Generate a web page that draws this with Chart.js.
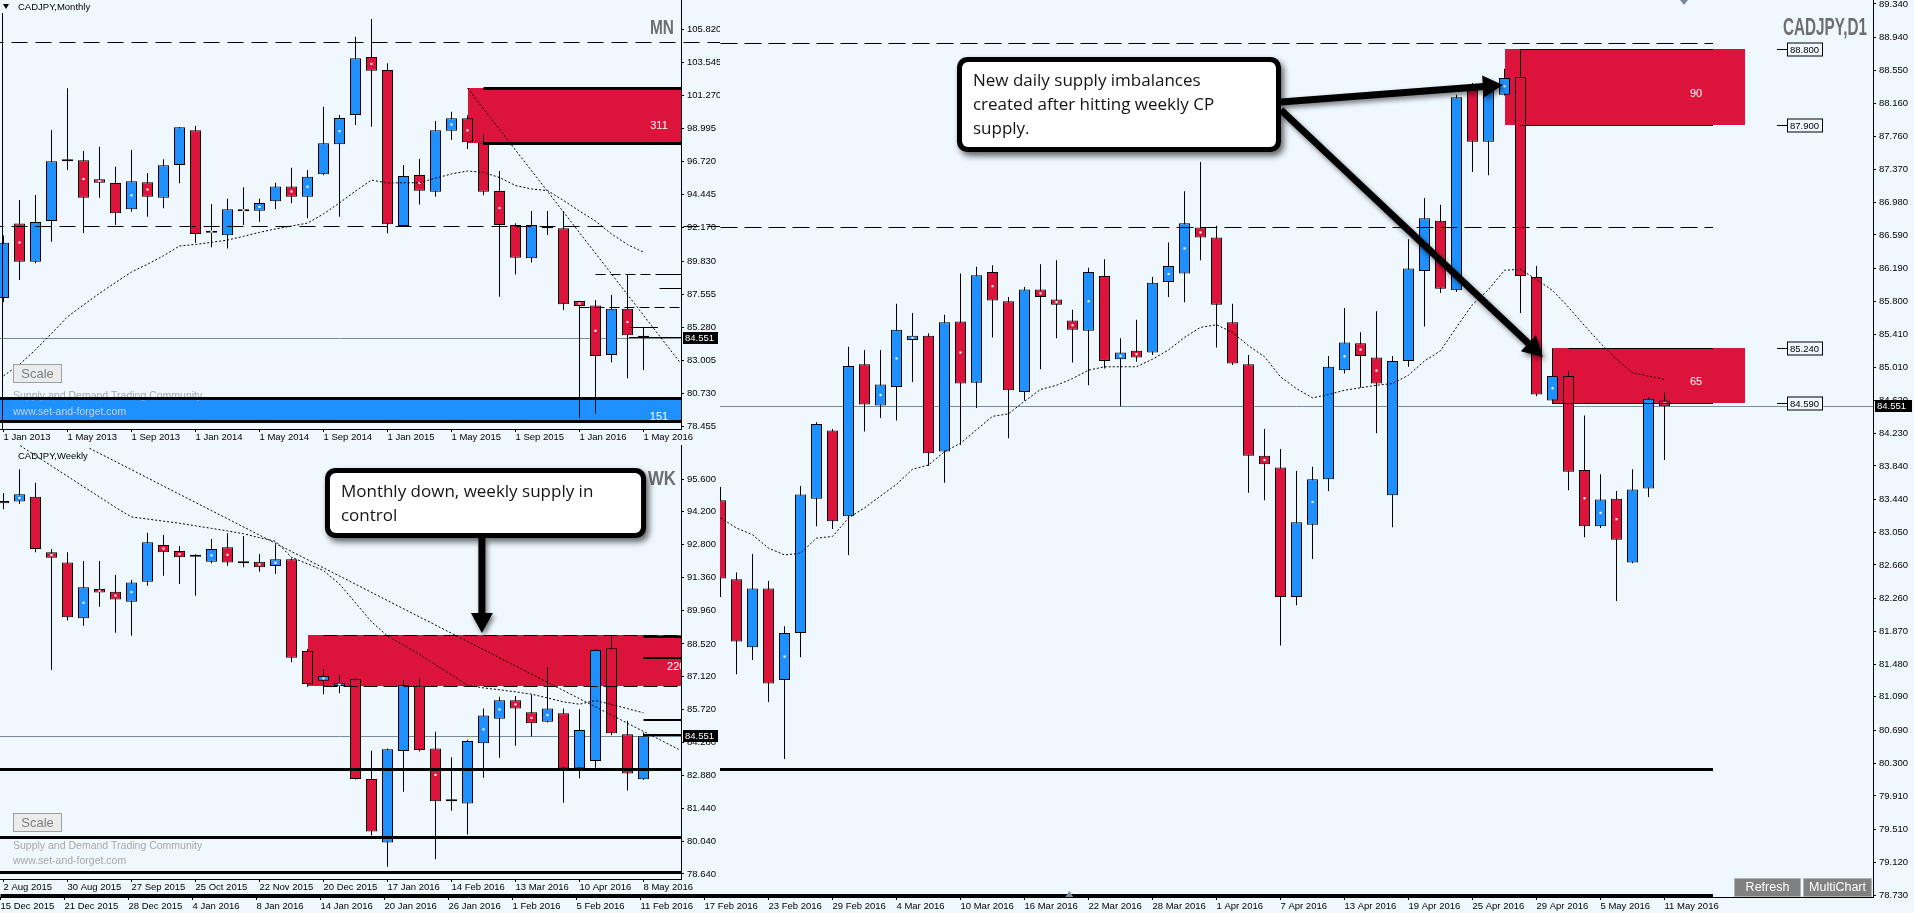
<!DOCTYPE html>
<html>
<head>
<meta charset="utf-8">
<title>CADJPY</title>
<script src="https://cdn.jsdelivr.net/npm/chart.js@4.4.1/dist/chart.umd.min.js"></script>
<style>
  html, body { margin: 0; padding: 0; background: #f0f8ff; overflow: hidden; }
  #screen { position: relative; width: 1914px; height: 913px; }
  canvas { position: absolute; left: 0; display: block; }
  #daily { top: 0; }
  #monthly { top: 0; background: #f0f8ff; }
  #weekly { top: 445px; background: #f0f8ff; }
</style>
</head>
<body>
<div id="screen">
  <canvas id="daily" width="1914" height="913"></canvas>
  <canvas id="monthly" width="720" height="443"></canvas>
  <canvas id="weekly" width="720" height="448"></canvas>
</div>
<script>
// monthly bars, Jan 2013 .. May 2016
var monthlyLabels = ['1 Jan 2013', '1 May 2013', '1 Sep 2013', '1 Jan 2014', '1 May 2014', '1 Sep 2014', '1 Jan 2015', '1 May 2015', '1 Sep 2015', '1 Jan 2016', '1 May 2016'];
var monthlyTicks = [105.820, 103.545, 101.270, 98.995, 96.720, 94.445, 92.170, 89.830, 87.555, 85.280, 83.005, 80.730, 78.455];
var monthlyOpen = [87.3, 92.44, 89.80, 92.6, 96.72, 96.79, 95.48, 95.23, 93.41, 95.27, 94.21, 96.46, 98.86, 91.80, 91.62, 93.41, 93.31, 93.96, 94.99, 94.28, 95.82, 97.89, 99.91, 103.91, 103.01, 92.26, 95.78, 94.62, 98.83, 99.68, 98.0, 94.67, 92.33, 90.03, 92.2, 92.1, 87.08, 86.77, 83.37, 86.56, 84.7];
var monthlyHigh = [91.6, 94.05, 94.4, 98.88, 101.75, 97.43, 97.73, 96.35, 97.5, 95.91, 96.86, 99.06, 99.15, 93.78, 94.14, 94.93, 94.14, 95.24, 96.28, 96.12, 100.48, 99.91, 105.31, 106.53, 103.48, 96.47, 96.88, 99.5, 100.14, 99.9, 98.58, 96.05, 92.45, 93.3, 93.3, 93.3, 87.1, 87.15, 87.5, 88.93, 85.27];
var monthlyLow = [87.0, 88.53, 89.69, 91.18, 96.12, 91.78, 94.21, 92.33, 93.24, 92.9, 93.48, 95.2, 91.11, 90.79, 90.7, 92.33, 92.56, 93.43, 93.82, 92.79, 95.75, 92.9, 99.22, 99.1, 91.76, 92.2, 93.75, 94.28, 98.19, 97.57, 94.38, 87.39, 88.92, 89.75, 91.64, 86.47, 79.0, 79.35, 82.86, 81.76, 82.33];
var monthlyClose = [91.1, 89.80, 92.53, 96.72, 96.86, 94.21, 95.24, 93.13, 95.34, 94.28, 96.44, 99.06, 91.71, 91.94, 93.41, 93.27, 93.84, 94.99, 94.28, 95.66, 97.96, 99.70, 103.82, 102.97, 92.38, 95.71, 94.69, 98.86, 99.68, 98.03, 94.62, 92.33, 90.07, 92.33, 92.1, 86.86, 86.74, 83.3, 86.56, 84.72, 84.551];
var monthlyDots = [1, 5, 6, 8, 9, 13, 15, 16, 18, 19, 21, 23, 26, 28, 29, 31, 36, 37, 39];
var monthlyMA = [81.93, 82.71, 83.73, 84.85, 86.0, 86.82, 87.62, 88.36, 89.09, 89.62, 90.21, 90.88, 90.99, 91.13, 91.29, 91.55, 91.82, 92.06, 92.26, 92.46, 93.09, 93.85, 94.67, 95.43, 95.22, 95.24, 95.24, 95.55, 95.85, 96.05, 95.96, 95.6, 95.05, 94.81, 94.7, 94.02, 93.29, 92.6, 91.71, 90.98, 90.46];
var monthlyTrend = [[29, 101.77], [42.25, 82.90]];

// weekly bars, 2 Aug 2015 .. 8 May 2016
var weeklyLabels = ['2 Aug 2015', '30 Aug 2015', '27 Sep 2015', '25 Oct 2015', '22 Nov 2015', '20 Dec 2015', '17 Jan 2016', '14 Feb 2016', '13 Mar 2016', '10 Apr 2016', '8 May 2016'];
var weeklyTicks = [95.600, 94.200, 92.800, 91.360, 89.960, 88.520, 87.120, 85.720, 84.280, 82.880, 81.440, 80.040, 78.640];
var weeklyOpen = [94.66, 94.63, 94.84, 92.45, 92.02, 89.62, 90.88, 90.76, 90.33, 91.19, 92.77, 92.51, 92.28, 92.05, 92.67, 92.0, 92.05, 91.86, 92.15, 88.21, 86.94, 86.71, 87.0, 82.72, 79.99, 83.92, 86.72, 84.03, 81.76, 81.67, 84.25, 85.31, 86.1, 85.58, 85.18, 85.54, 83.18, 83.49, 88.33, 84.64, 82.71];
var weeklyHigh = [95.0, 96.02, 95.44, 92.59, 92.45, 92.08, 92.08, 91.48, 91.26, 93.29, 93.2, 92.72, 92.37, 93.02, 93.27, 93.15, 92.38, 92.8, 92.2, 88.3, 87.43, 87.18, 87.05, 83.93, 84.03, 86.97, 87.04, 84.75, 83.65, 84.4, 85.75, 86.25, 86.28, 86.35, 87.51, 85.75, 85.71, 88.3, 88.83, 85.22, 84.72];
var weeklyLow = [94.3, 94.53, 92.45, 87.4, 89.52, 89.3, 90.12, 89.0, 88.87, 91.02, 91.45, 91.09, 90.59, 91.98, 91.88, 91.81, 91.62, 91.52, 87.73, 86.68, 86.36, 86.4, 82.7, 80.29, 78.95, 82.17, 83.9, 79.27, 81.36, 80.34, 82.77, 83.63, 84.15, 84.54, 85.14, 81.7, 82.75, 83.2, 84.6, 82.22, 82.68];
var weeklyClose = [94.56, 94.94, 92.59, 92.22, 89.66, 90.95, 90.73, 90.43, 91.16, 92.88, 92.45, 92.24, 92.26, 92.59, 92.02, 91.98, 91.81, 92.15, 87.93, 86.8, 87.14, 86.83, 82.72, 80.46, 84.0, 86.75, 83.96, 81.76, 81.8, 84.35, 85.45, 86.1, 85.75, 85.11, 85.75, 83.18, 84.82, 88.26, 84.68, 82.96, 84.55];
var weeklyDots = [1, 3, 5, 6, 7, 8, 10, 11, 13, 14, 16, 17, 20, 21, 27, 30, 31, 32, 33, 34];
var weeklyMA = [97.50, 97.05, 96.61, 96.16, 95.72, 95.27, 94.83, 94.38, 93.97, 93.88, 93.79, 93.70, 93.59, 93.48, 93.37, 93.25, 93.08, 92.93, 92.24, 91.96, 91.67, 91.09, 90.28, 89.47, 88.86, 88.47, 88.08, 87.62, 87.19, 86.75, 86.63, 86.55, 86.46, 86.36, 86.20, 86.03, 85.93, 86.09, 85.92, 85.74, 85.56];
var weeklyTrend = [[5.375, 96.92], [42.2, 83.99]];

// daily bars, axis starts at 15 Dec 2015, visible bars from index 45 (18 Feb 2016) to 104 (11 May 2016)
var dailyLabels = ['15 Dec 2015', '21 Dec 2015', '28 Dec 2015', '4 Jan 2016', '8 Jan 2016', '14 Jan 2016', '20 Jan 2016', '26 Jan 2016', '1 Feb 2016', '5 Feb 2016', '11 Feb 2016', '17 Feb 2016', '23 Feb 2016', '29 Feb 2016', '4 Mar 2016', '10 Mar 2016', '16 Mar 2016', '22 Mar 2016', '28 Mar 2016', '1 Apr 2016', '7 Apr 2016', '13 Apr 2016', '19 Apr 2016', '25 Apr 2016', '29 Apr 2016', '5 May 2016', '11 May 2016'];
var dailyTicks = [89.340, 88.940, 88.550, 88.160, 87.760, 87.370, 86.980, 86.590, 86.190, 85.800, 85.410, 85.010, 84.620, 84.230, 83.840, 83.440, 83.050, 82.660, 82.260, 81.870, 81.480, 81.090, 80.690, 80.300, 79.910, 79.510, 79.120, 78.730];
var dailyFirst = 45;
var dailyOpen = [83.43, 82.49, 81.68, 82.38, 81.29, 81.85, 83.45, 84.26, 83.24, 85.05, 84.56, 84.78, 85.34, 85.39, 84.01, 85.56, 84.83, 86.15, 85.80, 84.72, 85.94, 85.82, 85.57, 85.45, 86.10, 85.11, 85.21, 85.19, 86.03, 86.13, 86.68, 86.56, 85.55, 85.05, 83.96, 83.82, 82.28, 83.14, 83.68, 84.98, 85.30, 85.13, 83.49, 85.09, 86.16, 86.76, 85.93, 88.32, 87.70, 88.26, 88.47, 86.09, 84.62, 84.91, 83.79, 83.12, 83.45, 82.69, 83.57, 84.62];
var dailyHigh = [83.59, 82.57, 82.79, 82.47, 81.93, 83.60, 84.36, 84.28, 85.26, 85.22, 85.22, 85.77, 85.66, 85.42, 85.64, 86.13, 86.21, 86.23, 85.85, 85.97, 86.24, 86.29, 85.70, 86.20, 86.30, 85.36, 85.58, 86.09, 86.50, 87.11, 87.46, 86.70, 85.77, 85.16, 84.28, 84.04, 83.78, 83.83, 85.15, 85.72, 85.43, 85.68, 85.15, 86.54, 87.03, 86.95, 88.26, 88.40, 88.40, 88.57, 88.80, 86.22, 85.24, 84.97, 84.44, 83.74, 83.54, 83.80, 84.66, 84.71];
var dailyLow = [82.28, 81.36, 81.53, 81.03, 80.35, 81.56, 83.12, 83.09, 82.78, 84.25, 84.41, 84.38, 84.84, 83.84, 83.64, 84.09, 84.53, 85.37, 84.17, 84.62, 84.99, 85.36, 85.07, 84.80, 85.00, 84.55, 85.08, 85.16, 85.85, 85.79, 86.29, 85.25, 85.04, 83.52, 83.43, 81.70, 82.18, 82.73, 83.54, 84.94, 84.77, 84.23, 83.11, 85.02, 85.50, 85.90, 85.91, 87.34, 87.30, 88.25, 85.66, 84.67, 84.58, 83.55, 82.99, 83.10, 82.23, 82.68, 83.47, 83.91];
var dailyClose = [82.50, 81.75, 82.38, 81.25, 81.85, 83.50, 84.34, 83.18, 85.03, 84.57, 84.81, 85.46, 85.39, 83.99, 85.55, 84.82, 86.11, 85.81, 84.74, 85.94, 85.85, 85.76, 85.46, 86.15, 85.09, 85.19, 85.13, 86.02, 86.22, 86.73, 86.56, 85.76, 85.06, 83.96, 83.86, 82.28, 83.17, 83.68, 85.02, 85.31, 85.15, 84.82, 85.09, 86.19, 86.79, 85.95, 88.23, 87.70, 88.32, 88.46, 86.10, 84.69, 84.91, 83.77, 83.12, 83.44, 82.96, 83.56, 84.64, 84.551];
var dailyDots = [49, 55, 56, 57, 60, 62, 65, 66, 67, 68, 70, 71, 73, 74, 75, 79, 82, 84, 85, 86, 94, 97, 99, 100, 101, 104];
var dailyMA = [83.22, 83.10, 83.02, 82.86, 82.78, 82.80, 82.98, 83.00, 83.22, 83.34, 83.48, 83.62, 83.80, 83.85, 84.01, 84.11, 84.27, 84.43, 84.46, 84.61, 84.75, 84.80, 84.88, 84.98, 85.02, 85.02, 85.02, 85.11, 85.22, 85.37, 85.49, 85.52, 85.43, 85.27, 85.14, 84.90, 84.76, 84.65, 84.69, 84.74, 84.77, 84.80, 84.82, 84.92, 85.09, 85.21, 85.49, 85.76, 85.94, 86.17, 86.18, 86.06, 85.93, 85.73, 85.51, 85.30, 85.11, 84.95, 84.91, 84.87];
var lastPrice = 84.551;

var UP = '#1e90ff', DOWN = '#dc143c', BG = '#f0f8ff';
var SANS = '"Liberation Sans", Arial, sans-serif';
var AXIS_FONT = {family: SANS, size: 9.5};

function candleSets(first, open, high, low, close, dots, ma) {
  var wicks = [], bodies = [], colors = [], marks = [], avg = [];
  for (var j = 0; j < open.length; j++) {
    wicks.push({x: first + j, y: [low[j], high[j]]});
    bodies.push({x: first + j, y: [open[j], close[j]]});
    colors.push(close[j] >= open[j] ? UP : DOWN);
    avg.push({x: first + j, y: ma[j]});
  }
  dots.forEach(function (i) {
    var j = i - first;
    marks.push({x: i, y: (open[j] + close[j]) / 2});
  });
  return [
    {type: 'line', data: avg, borderColor: '#000', borderWidth: 1, borderDash: [2, 2], pointRadius: 0, pointHoverRadius: 0, order: 0},
    {type: 'line', data: marks, showLine: false, pointStyle: 'rect', pointRadius: 1.5, pointHoverRadius: 0, pointBackgroundColor: '#fff', pointBorderWidth: 0, order: 1},
    {type: 'bar', data: bodies, backgroundColor: colors, borderColor: '#000', borderWidth: 1, borderSkipped: false,
     grouped: false, barPercentage: 1, categoryPercentage: 1, maxBarThickness: 11, minBarLength: 2, inflateAmount: 0, order: 2},
    {type: 'bar', data: wicks, backgroundColor: '#000', borderWidth: 0,
     grouped: false, barPercentage: 1, categoryPercentage: 1, maxBarThickness: 1, inflateAmount: 0, order: 3}
  ];
}

function trendSet(points) {
  return {type: 'line', data: points.map(function (p) { return {x: p[0], y: p[1]}; }),
          borderColor: '#000', borderWidth: 1, borderDash: [2, 2], pointRadius: 0, pointHoverRadius: 0, order: 0};
}

function chartOptions(xMin, xMax, yMin, yMax, yTicks, xLabels, axisWidth, axisHeight, labelPad) {
  return {
    responsive: false, animation: false, events: [], devicePixelRatio: 1,
    layout: {padding: 0, autoPadding: false},
    plugins: {legend: {display: false}, tooltip: {enabled: false}},
    scales: {
      x: {
        type: 'linear', min: xMin, max: xMax, offset: false,
        grid: {display: true, drawOnChartArea: false, drawTicks: true, tickLength: 3, color: '#000', offset: false},
        border: {display: true, color: '#000'},
        ticks: {autoSkip: false, maxRotation: 0, minRotation: 0, align: 'start', padding: labelPad, color: '#000', font: AXIS_FONT,
                callback: function (v, i) { return xLabels[i]; }},
        afterBuildTicks: function (s) { s.ticks = xLabels.map(function (t, i) { return {value: i * 4}; }); },
        afterFit: function (s) { s.height = axisHeight; s.paddingLeft = 0; s.paddingRight = 0; }
      },
      y: {
        type: 'linear', position: 'right', min: yMin, max: yMax,
        grid: {display: true, drawOnChartArea: false, drawTicks: true, tickLength: 3, color: '#000'},
        border: {display: true, color: '#000'},
        ticks: {autoSkip: false, padding: 3, color: '#000', font: AXIS_FONT, callback: function (v) { return v.toFixed(3); }},
        afterBuildTicks: function (s) { s.ticks = yTicks.map(function (v) { return {value: v}; }); },
        afterFit: function (s) { s.width = axisWidth; s.paddingTop = 0; s.paddingBottom = 0; }
      }
    }
  };
}

// drawing helpers, everything placed through the chart scales
function px(ch, v) { return ch.scales.x.getPixelForValue(v); }
function py(ch, v) { return ch.scales.y.getPixelForValue(v); }

function zone(ch, from, to, top, bottom, color) {
  var ctx = ch.ctx, a = ch.chartArea;
  ctx.save();
  ctx.beginPath(); ctx.rect(a.left, a.top, a.right - a.left, a.bottom - a.top); ctx.clip();
  var x0 = Math.round(px(ch, from)), x1 = Math.round(px(ch, to));
  var y0 = Math.round(py(ch, top)), y1 = Math.round(py(ch, bottom));
  ctx.fillStyle = color;
  ctx.fillRect(x0, y0, x1 - x0, y1 - y0);
  ctx.restore();
}

function hline(ch, from, to, value, width, dash, wide) {
  var ctx = ch.ctx, a = ch.chartArea;
  var y = Math.round(py(ch, value)) + (width % 2 ? 0.5 : 0);
  ctx.save();
  if (!wide) { ctx.beginPath(); ctx.rect(a.left, 0, a.right - a.left, ch.height); ctx.clip(); }
  ctx.strokeStyle = '#000'; ctx.lineWidth = width; ctx.setLineDash(dash || []);
  ctx.beginPath(); ctx.moveTo(px(ch, from), y); ctx.lineTo(px(ch, to), y); ctx.stroke();
  ctx.restore();
}

function priceLine(ch, from, value) {
  var ctx = ch.ctx, a = ch.chartArea, y = Math.round(py(ch, value)) + 0.5;
  ctx.save();
  ctx.strokeStyle = '#7b8a99'; ctx.lineWidth = 1;
  ctx.beginPath(); ctx.moveTo(Math.max(a.left, px(ch, from)), y); ctx.lineTo(a.right, y); ctx.stroke();
  ctx.restore();
}

function priceBox(ch, value) {
  var ctx = ch.ctx, a = ch.chartArea, y = Math.round(py(ch, value));
  ctx.save();
  ctx.fillStyle = '#000'; ctx.fillRect(a.right + 2, y - 6, ch.width - a.right - 4, 12);
  ctx.fillStyle = '#fff'; ctx.font = '9.5px ' + SANS; ctx.textBaseline = 'middle'; ctx.textAlign = 'left';
  ctx.fillText(value.toFixed(3), a.right + 4, y + 0.5);
  ctx.restore();
}

function write(ctx, str, x, y, color, size, align, clipArea) {
  ctx.save();
  if (clipArea) { ctx.beginPath(); ctx.rect(clipArea.left, clipArea.top, clipArea.right - clipArea.left, clipArea.bottom - clipArea.top); ctx.clip(); }
  ctx.fillStyle = color; ctx.font = size + 'px ' + SANS;
  ctx.textAlign = align || 'left'; ctx.textBaseline = 'middle';
  ctx.fillText(str, x, y);
  ctx.restore();
}

function bigTitle(ctx, str, xRight, cy, width, size) {
  ctx.save();
  ctx.font = 'bold ' + size + 'px ' + SANS;
  var m = ctx.measureText(str).width;
  ctx.translate(xRight - width, cy);
  ctx.scale(width / m, 1);
  ctx.fillStyle = '#6e6e6e'; ctx.textBaseline = 'middle'; ctx.textAlign = 'left';
  ctx.fillText(str, 0, 1);
  ctx.restore();
}

function button(ctx, x, y, w, h, str, fill, edge, color, size) {
  ctx.save();
  ctx.fillStyle = fill; ctx.fillRect(x, y, w, h);
  ctx.strokeStyle = edge; ctx.lineWidth = 1; ctx.strokeRect(x + 0.5, y + 0.5, w - 1, h - 1);
  ctx.fillStyle = color; ctx.font = size + 'px ' + SANS; ctx.textAlign = 'center'; ctx.textBaseline = 'middle';
  ctx.fillText(str, x + w / 2, y + h / 2 + 0.5);
  ctx.restore();
}

function roundedPath(ctx, x, y, w, h, r) {
  ctx.beginPath();
  ctx.moveTo(x + r, y);
  ctx.arcTo(x + w, y, x + w, y + h, r);
  ctx.arcTo(x + w, y + h, x, y + h, r);
  ctx.arcTo(x, y + h, x, y, r);
  ctx.arcTo(x, y, x + w, y, r);
  ctx.closePath();
}

function callout(ctx, x0, y0, x1, y1, lines) {
  ctx.save();
  ctx.shadowColor = 'rgba(0,0,0,0.6)'; ctx.shadowBlur = 6; ctx.shadowOffsetX = 3; ctx.shadowOffsetY = 4;
  ctx.fillStyle = '#000';
  roundedPath(ctx, x0, y0, x1 - x0, y1 - y0, 10); ctx.fill();
  ctx.shadowColor = 'rgba(0,0,0,0)';
  ctx.fillStyle = '#fff';
  roundedPath(ctx, x0 + 5, y0 + 5, x1 - x0 - 10, y1 - y0 - 10, 6); ctx.fill();
  ctx.fillStyle = '#141414'; ctx.font = '17px "Open Sans", ' + SANS;
  ctx.textAlign = 'left'; ctx.textBaseline = 'middle';
  lines.forEach(function (t, i) { ctx.fillText(t, x0 + 16, y0 + 24 + i * 24); });
  ctx.restore();
}

function arrow(ctx, x0, y0, x1, y1) {
  var ang = Math.atan2(y1 - y0, x1 - x0), c = Math.cos(ang), s = Math.sin(ang);
  var bx = x1 - c * 20, by = y1 - s * 20;
  ctx.save();
  ctx.shadowColor = 'rgba(0,0,0,0.5)'; ctx.shadowBlur = 5; ctx.shadowOffsetX = 2; ctx.shadowOffsetY = 3;
  ctx.strokeStyle = '#000'; ctx.fillStyle = '#000'; ctx.lineWidth = 7;
  ctx.beginPath(); ctx.moveTo(x0, y0); ctx.lineTo(bx + c * 4, by + s * 4); ctx.stroke();
  ctx.beginPath(); ctx.moveTo(x1, y1); ctx.lineTo(bx - s * 11, by + c * 11); ctx.lineTo(bx + s * 11, by - c * 11); ctx.closePath(); ctx.fill();
  ctx.restore();
}

function triangle(ctx, x, yTip, yBase, half, color) {
  ctx.save(); ctx.fillStyle = color;
  ctx.beginPath(); ctx.moveTo(x, yTip); ctx.lineTo(x - half, yBase); ctx.lineTo(x + half, yBase); ctx.closePath(); ctx.fill();
  ctx.restore();
}

function levelTag(ch, value) {
  var ctx = ch.ctx, y = Math.round(py(ch, value)) + 0.5;
  var x0 = Math.round(px(ch, 111.03)), bx = Math.round(px(ch, 111.66)) + 0.5;
  ctx.save();
  ctx.strokeStyle = '#000'; ctx.lineWidth = 1;
  ctx.beginPath(); ctx.moveTo(x0, y); ctx.lineTo(bx, y); ctx.stroke();
  ctx.fillStyle = BG; ctx.fillRect(bx, y - 6.5, 35, 13); ctx.strokeRect(bx, y - 6.5, 35, 13);
  ctx.fillStyle = '#000'; ctx.font = '9.5px ' + SANS; ctx.textBaseline = 'middle'; ctx.textAlign = 'left';
  ctx.fillText(value.toFixed(3), bx + 2.5, y + 0.5);
  ctx.restore();
}

// ---------- daily chart (whole window, behind the two small ones) ----------
var dailyChart = new Chart(document.getElementById('daily').getContext('2d'), {
  type: 'bar',
  data: {datasets: candleSets(dailyFirst, dailyOpen, dailyHigh, dailyLow, dailyClose, dailyDots, dailyMA)},
  options: chartOptions(-0.03125, 117.03125, 78.7066, 89.3876, dailyTicks, dailyLabels, 41, 16, 1),
  plugins: [{
    id: 'dailyMarks',
    beforeDatasetsDraw: function (ch) {
      zone(ch, 94, 109, 88.80, 87.90, DOWN);
      zone(ch, 97, 109, 85.24, 84.59, DOWN);
      priceLine(ch, 44.97, lastPrice);
    },
    afterDatasetsDraw: function (ch) {
      var ctx = ch.ctx;
      hline(ch, 43.5, 107.03, 88.876, 1, [17, 7]);
      hline(ch, 43.5, 107.03, 86.685, 1, [17, 7]);
      hline(ch, 0, 107.03, 80.23, 3);
      hline(ch, 0, 107.03, 78.73, 3);
      hline(ch, 95, 107.03, 88.80, 1);
      hline(ch, 95, 107.03, 87.90, 1);
      hline(ch, 98, 107.03, 85.24, 1);
      hline(ch, 97, 107.03, 84.59, 1);
      write(ctx, '90', px(ch, 105.97), py(ch, 88.268), '#fff', 11, 'center');
      write(ctx, '65', px(ch, 105.97), py(ch, 84.839), '#fff', 11, 'center');
      [88.80, 87.90, 85.24, 84.59].forEach(function (v) { levelTag(ch, v); });
      bigTitle(ctx, 'CADJPY,D1', 1867, 28, 84, 23);
    },
    afterDraw: function (ch) {
      var ctx = ch.ctx, a = ch.chartArea;
      arrow(ctx, px(ch, 80.03), py(ch, 88.173), px(ch, 93.9), py(ch, 88.375));
      arrow(ctx, px(ch, 80.03), py(ch, 88.078), px(ch, 96.4), py(ch, 85.137));
      callout(ctx, px(ch, 59.78), py(ch, 88.709), px(ch, 80.03), py(ch, 87.578),
              ['New daily supply imbalances', 'created after hitting weekly CP', 'supply.']);
      priceBox(ch, lastPrice);
      triangle(ctx, px(ch, 105.22), 5, 0, 4, '#7b8a99');
      triangle(ctx, px(ch, 66.8), a.bottom - 6, a.bottom, 4, '#7b8a99');
      button(ctx, 1734, 878, 67, 19, 'Refresh', '#808080', '#b4b4b4', '#fff', 12.5);
      button(ctx, 1803, 878, 69, 19, 'MultiChart', '#808080', '#b4b4b4', '#fff', 12.5);
    }
  }]
});

// ---------- monthly chart ----------
var monthlyChart = new Chart(document.getElementById('monthly').getContext('2d'), {
  type: 'bar',
  data: {datasets: candleSets(0, monthlyOpen, monthlyHigh, monthlyLow, monthlyClose, monthlyDots, monthlyMA).concat([trendSet(monthlyTrend)])},
  options: chartOptions(-0.21875, 42.34375, 78.264, 107.84, monthlyTicks, monthlyLabels, 39, 14, 0),
  plugins: [{
    id: 'monthlyMarks',
    beforeDatasetsDraw: function (ch) {
      var ctx = ch.ctx;
      zone(ch, 29, 45, 101.79, 98.0, DOWN);
      zone(ch, -1, 45, 80.37, 78.82, UP);
      priceLine(ch, -1, lastPrice);
      write(ctx, 'Supply and Demand Trading Community', 13, 396, '#a6a6a6', 10.5);
      write(ctx, 'www.set-and-forget.com', 13, 412, '#c8d2dc', 10.5);
    },
    afterDatasetsDraw: function (ch) {
      var ctx = ch.ctx;
      hline(ch, -1, 50, 104.91, 1, [16, 8], true);
      hline(ch, -1, 50, 92.28, 1, [16, 8], true);
      hline(ch, 30, 45, 101.79, 3);
      hline(ch, 30, 45, 98.0, 3);
      hline(ch, -1, 45, 80.37, 3);
      hline(ch, -1, 45, 78.82, 3);
      hline(ch, 37, 45, 88.93, 1, [10, 5]);
      hline(ch, 36, 45, 86.70, 1, [10, 5]);
      hline(ch, 41, 45, 88.93, 1);
      hline(ch, 41, 45, 87.96, 1);
      hline(ch, 39.1, 40.9, 85.27, 1);
      hline(ch, 39.1, 45, 84.63, 1);
      write(ctx, '311', px(ch, 40.97), py(ch, 99.15), '#fff', 11, 'center');
      write(ctx, '151', px(ch, 40.97), py(ch, 79.1), '#fff', 11, 'center');
      bigTitle(ctx, 'MN', 674, 27, 24, 21);
      write(ctx, 'CADJPY,Monthly', 18, 7, '#000', 9.5);
      triangle(ctx, 6, 9, 4, 3, '#000');
      ctx.save(); ctx.strokeStyle = '#000'; ctx.lineWidth = 1;
      ctx.beginPath(); ctx.moveTo(2.5, 13); ctx.lineTo(2.5, ch.chartArea.bottom); ctx.stroke(); ctx.restore();
    },
    afterDraw: function (ch) {
      priceBox(ch, lastPrice);
      button(ch.ctx, 13, 364, 49, 19, 'Scale', '#ebebeb', '#a0a0a0', '#7d7d7d', 13);
    }
  }]
});

// ---------- weekly chart ----------
var weeklyChart = new Chart(document.getElementById('weekly').getContext('2d'), {
  type: 'bar',
  data: {datasets: candleSets(0, weeklyOpen, weeklyHigh, weeklyLow, weeklyClose, weeklyDots, weeklyMA).concat([trendSet(weeklyTrend)])},
  options: chartOptions(-0.21875, 42.34375, 78.425, 97.06, weeklyTicks, weeklyLabels, 39, 14, 0),
  plugins: [{
    id: 'weeklyMarks',
    beforeDatasetsDraw: function (ch) {
      var ctx = ch.ctx;
      zone(ch, 19, 45, 88.9, 86.71, DOWN);
      priceLine(ch, -1, lastPrice);
      write(ctx, 'Supply and Demand Trading Community', 13, 401, '#a6a6a6', 10.5);
      write(ctx, 'www.set-and-forget.com', 13, 416, '#a6a6a6', 10.5);
    },
    afterDatasetsDraw: function (ch) {
      var ctx = ch.ctx;
      hline(ch, 20, 45, 88.9, 1, [14, 6]);
      hline(ch, 20, 45, 86.71, 1, [14, 6]);
      hline(ch, -1, 45, 83.15, 3);
      hline(ch, -1, 45, 80.21, 3);
      hline(ch, -1, 45, 78.73, 3);
      [88.83, 87.90, 85.24, 84.59].forEach(function (v) { hline(ch, 40, 45, v, 2); });
      write(ctx, '220', px(ch, 41.47), py(ch, 87.54), '#fff', 11, 'left', ch.chartArea);
      write(ctx, 'CADJPY,Weekly', 18, 11, '#000', 9.5);
      bigTitle(ctx, 'WK', 676, 33, 28, 21);
    },
    afterDraw: function (ch) {
      var ctx = ch.ctx;
      arrow(ctx, px(ch, 29.9), py(ch, 93.067), px(ch, 29.9), py(ch, 88.988));
      callout(ctx, px(ch, 20.09), py(ch, 96.072), px(ch, 40.16), py(ch, 93.067),
              ['Monthly down, weekly supply in', 'control']);
      priceBox(ch, lastPrice);
      button(ctx, 13, 368, 49, 19, 'Scale', '#ebebeb', '#a0a0a0', '#7d7d7d', 13);
    }
  }]
});
</script>
</body>
</html>
